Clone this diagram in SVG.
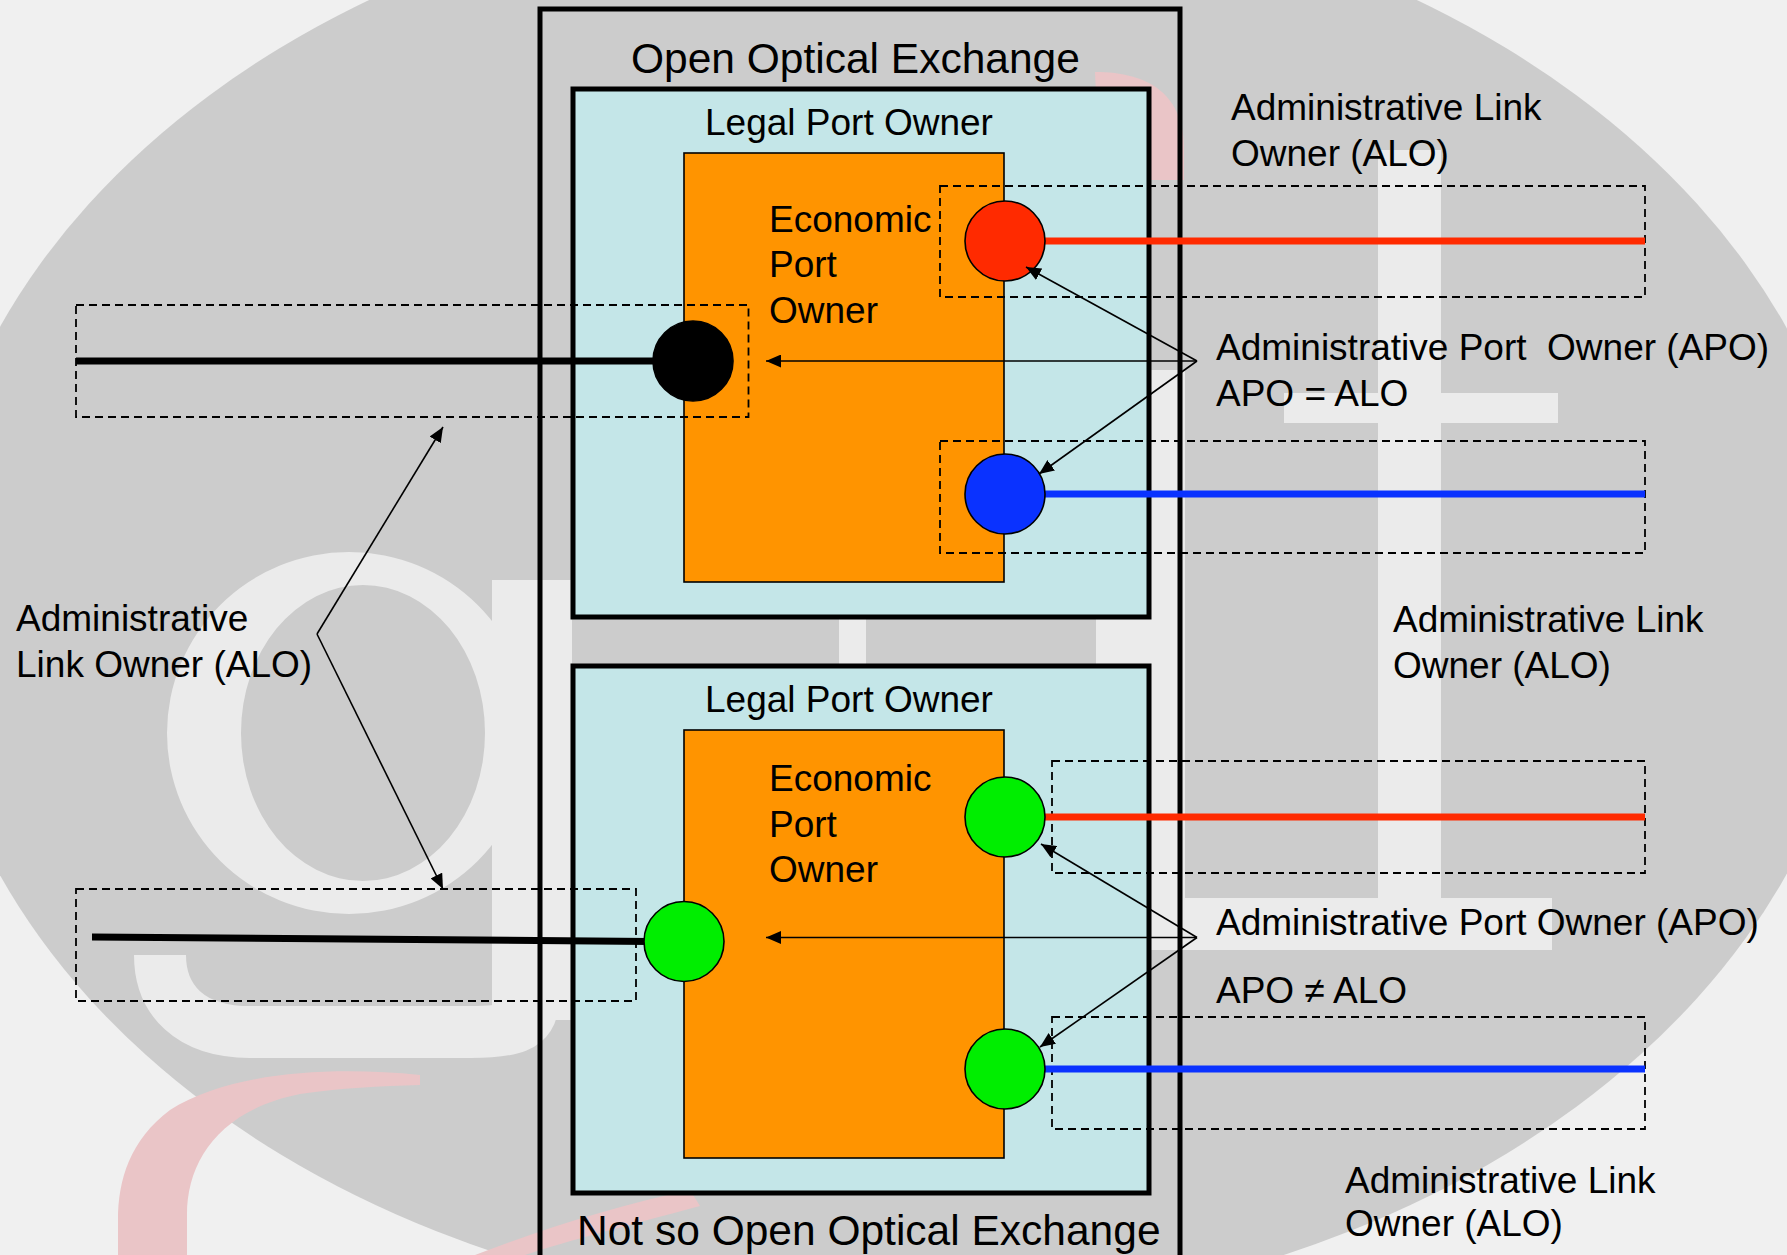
<svg xmlns="http://www.w3.org/2000/svg" width="1787" height="1255" viewBox="0 0 1787 1255">
<style>
.t{font-family:"Liberation Sans",Arial,sans-serif;font-size:37px;fill:#000}
.big{font-size:42.5px}
.wm{fill:#ebebeb}
.pk{fill:#eac5c7}
.dash{fill:none;stroke:#000;stroke-width:1.8;stroke-dasharray:8 5}
.box{stroke:#000;stroke-width:5}
.cy{fill:#c4e6e8}
.or{fill:#ff9400;stroke:#000;stroke-width:1.6}
.port{stroke:#000;stroke-width:1.6}
.link{stroke-width:7;fill:none}
.arr{stroke:#000;stroke-width:1.6;fill:none;marker-end:url(#ah)}
</style>
<defs>
<marker id="ah" markerWidth="15" markerHeight="13" refX="15" refY="6.5" orient="auto" markerUnits="userSpaceOnUse"><path d="M0,0 L15,6.5 L0,13 z" fill="#000"/></marker>
</defs>
<g id="background">
<rect width="1787" height="1255" fill="#f0f0f0"/>
<ellipse cx="893" cy="601" rx="967" ry="715" fill="#cccccc"/>
<path class="wm" fill-rule="evenodd" d="M167,733 a182,181 0 1,0 364,0 a182,181 0 1,0 -364,0 Z M241,733 a122,148 0 1,0 244,0 a122,148 0 1,0 -244,0 Z"/>
<rect class="wm" x="492" y="580" width="80" height="440"/>
<path d="M533,1000 C533,1028 510,1032 470,1032 L250,1032 C190,1032 160,1000 160,955" stroke="#ebebeb" stroke-width="52" fill="none"/>
<path class="pk" d="M420,1075 C330,1066 230,1072 170,1110 C130,1140 118,1180 118,1220 L118,1255 L187,1255 L187,1215 C187,1160 220,1110 300,1094 C340,1088 380,1086 420,1085 Z"/>
<path class="pk" d="M690,1190 L700,1206 C630,1225 570,1240 525,1255 L475,1255 C545,1228 620,1205 690,1190 Z"/>
<path class="pk" d="M1095,72 C1150,72 1184,95 1184,150 L1184,180 L1100,180 Z"/>
<rect class="wm" x="1378" y="150" width="63" height="760"/>
<rect class="wm" x="1284" y="393" width="274" height="30"/>
<rect class="wm" x="1150" y="370" width="35" height="580"/>
<rect class="wm" x="1160" y="898" width="392" height="52"/>
<rect class="wm" x="1096" y="617" width="89" height="49"/>
<rect class="wm" x="839" y="617" width="27" height="49"/>
</g>
<g id="open-exchange">
<rect class="box" x="540" y="9" width="640" height="1265" fill="none"/>
<text class="t big" x="631" y="72.5">Open Optical Exchange</text>
</g>
<g id="legal-port-owner-1">
<rect class="box cy" x="573" y="89" width="576" height="528"/>
<text class="t" x="705" y="135">Legal Port Owner</text>
</g>
<g id="economic-port-owner-1">
<rect class="or" x="684" y="153" width="320" height="429"/>
<text class="t" x="769" y="231.5">Economic</text>
<text class="t" x="769" y="277">Port</text>
<text class="t" x="769" y="322.5">Owner</text>
</g>
<g id="legal-port-owner-2">
<rect class="box cy" x="573" y="666" width="576" height="527"/>
<text class="t" x="705" y="712">Legal Port Owner</text>
</g>
<g id="economic-port-owner-2">
<rect class="or" x="684" y="730" width="320" height="428"/>
<text class="t" x="769" y="791">Economic</text>
<text class="t" x="769" y="836.5">Port</text>
<text class="t" x="769" y="882">Owner</text>
</g>
<g id="not-so-open-label">
<text class="t big" x="577" y="1245">Not so Open Optical Exchange</text>
</g>
<g id="alo-areas">
<rect class="dash" x="76" y="305" width="672.5" height="112"/>
<rect class="dash" x="940" y="186" width="705" height="111"/>
<rect class="dash" x="940" y="441" width="705" height="112"/>
<rect class="dash" x="76" y="889" width="560" height="112"/>
<rect class="dash" x="1052" y="761" width="593" height="112"/>
<rect class="dash" x="1052" y="1017" width="593" height="112"/>
</g>
<g id="links">
<line class="link" x1="76" y1="361" x2="660" y2="361" stroke="#000"/>
<line class="link" x1="92" y1="937" x2="650" y2="941.5" stroke="#000"/>
<line class="link" x1="1040" y1="241" x2="1645" y2="241" stroke="#ff2a00"/>
<line class="link" x1="1040" y1="494" x2="1645" y2="494" stroke="#0a32ff"/>
<line class="link" x1="1040" y1="817" x2="1645" y2="817" stroke="#ff2a00"/>
<line class="link" x1="1040" y1="1069" x2="1645" y2="1069" stroke="#0a32ff"/>
</g>
<g id="ports">
<circle class="port" cx="693" cy="361" r="40" fill="#000"/>
<circle class="port" cx="1005" cy="241" r="40" fill="#ff2a00"/>
<circle class="port" cx="1005" cy="494" r="40" fill="#0a32ff"/>
<circle class="port" cx="684" cy="941.5" r="40" fill="#00ee00"/>
<circle class="port" cx="1005" cy="817" r="40" fill="#00ee00"/>
<circle class="port" cx="1005" cy="1069" r="40" fill="#00ee00"/>
</g>
<g id="labels">
<text class="t" x="1231" y="120">Administrative Link</text>
<text class="t" x="1231" y="165.5">Owner (ALO)</text>
<text class="t" x="1216" y="359.5" xml:space="preserve">Administrative Port  Owner (APO)</text>
<text class="t" x="1216" y="405.5">APO = ALO</text>
<text class="t" x="1393" y="632">Administrative Link</text>
<text class="t" x="1393" y="678">Owner (ALO)</text>
<text class="t" x="16" y="631">Administrative</text>
<text class="t" x="16" y="676.5">Link Owner (ALO)</text>
<text class="t" x="1216" y="935">Administrative Port Owner (APO)</text>
<text class="t" x="1216" y="1003">APO ≠ ALO</text>
<text class="t" x="1345" y="1192.5">Administrative Link</text>
<text class="t" x="1345" y="1236">Owner (ALO)</text>
</g>
<g id="connectors">
<line class="arr" x1="1197" y1="361" x2="1026" y2="267"/>
<line class="arr" x1="1197" y1="361" x2="766" y2="361"/>
<line class="arr" x1="1197" y1="361" x2="1039" y2="474"/>
<line class="arr" x1="1197" y1="937.5" x2="1041" y2="844"/>
<line class="arr" x1="1197" y1="937.5" x2="766" y2="937.5"/>
<line class="arr" x1="1197" y1="937.5" x2="1040" y2="1047"/>
<line class="arr" x1="317" y1="634" x2="443" y2="427"/>
<line class="arr" x1="317" y1="634" x2="443" y2="889"/>
</g>
</svg>
